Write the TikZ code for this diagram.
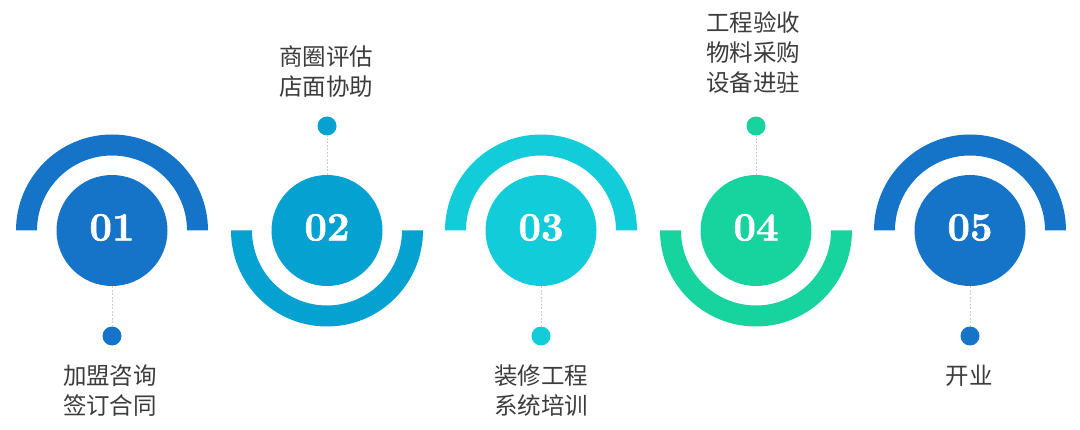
\documentclass[tikz,border=0pt]{standalone}
\usepackage{fontspec}
\newfontfamily\cjk{Noto Sans CJK SC}
\newfontfamily\numfont[FakeBold=1.6]{Latin Modern Roman}
\definecolor{cA}{HTML}{1674C8}
\definecolor{cB}{HTML}{04A1D1}
\definecolor{cC}{HTML}{12CDD9}
\definecolor{cD}{HTML}{17D39D}
\definecolor{txt}{HTML}{3C3C3C}
\definecolor{dashcol}{HTML}{CCCCCC}
\tikzset{
  bigcirc/.style={circle, fill=#1, minimum size=111pt, inner sep=0pt, text=white,
    font=\numfont\bfseries\fontsize{40}{40}\selectfont},
  numtext/.style={text=white, inner sep=0pt, yshift=3pt,
    font=\numfont\bfseries\fontsize{40}{40}\selectfont},
  dotnode/.style={circle, fill=#1, minimum size=19pt, inner sep=0pt},
  link/.style={dashcol, line width=0.8pt, dash pattern=on 2pt off 1.5pt},
  label/.style={text=txt, align=center, inner sep=0pt,
    font=\cjk\fontsize{23.5}{30}\selectfont}
}
\begin{document}
\begin{tikzpicture}[x=1pt,y=1pt]
\fill[white] (0,0) rectangle (1080,429);
\useasboundingbox (0,0) rectangle (1080,429);
% arcs
\fill[cA] (16,198.5) arc[start angle=180,end angle=0,radius=96pt] -- ++(-21,0) arc[start angle=0,end angle=180,radius=75pt] -- cycle;
\fill[cB] (231,198.5) arc[start angle=180,end angle=360,radius=96pt] -- ++(-21,0) arc[start angle=0,end angle=-180,radius=75pt] -- cycle;
\fill[cC] (445,198.5) arc[start angle=180,end angle=0,radius=96pt] -- ++(-21,0) arc[start angle=0,end angle=180,radius=75pt] -- cycle;
\fill[cD] (660,198.5) arc[start angle=180,end angle=360,radius=96pt] -- ++(-21,0) arc[start angle=0,end angle=-180,radius=75pt] -- cycle;
\fill[cA] (874,198.5) arc[start angle=180,end angle=0,radius=96pt] -- ++(-21,0) arc[start angle=0,end angle=180,radius=75pt] -- cycle;
% circles
\node[bigcirc=cA] (c1) at (112,198.5) {};
\node[bigcirc=cB] (c2) at (327,198.5) {};
\node[bigcirc=cC] (c3) at (541,198.5) {};
\node[bigcirc=cD] (c4) at (756,198.5) {};
\node[bigcirc=cA] (c5) at (970,198.5) {};
\node[numtext] (n1) at (c1.center) {01};
\node[numtext] (n2) at (c2.center) {02};
\node[numtext] (n3) at (c3.center) {03};
\node[numtext] (n4) at (c4.center) {04};
\node[numtext] (n5) at (c5.center) {05};
% dots
\node[dotnode=cA] (d1) at (112,93) {};
\node[dotnode=cB] (d2) at (327,303) {};
\node[dotnode=cC] (d3) at (541,93) {};
\node[dotnode=cD] (d4) at (756,303) {};
\node[dotnode=cA] (d5) at (970,93) {};
% links
\draw[link] (c1) -- (d1);
\draw[link] (c2) -- (d2);
\draw[link] (c3) -- (d3);
\draw[link] (c4) -- (d4);
\draw[link] (c5) -- (d5);
% labels
\node[label] (t1) at (110,38) {加盟咨询\\签订合同};
\node[label] (t2) at (326,357.5) {商圈评估\\店面协助};
\node[label] (t3) at (541,38) {装修工程\\系统培训};
\node[label] (t4) at (753,376.5) {工程验收\\物料采购\\设备进驻};
\node[label] (t5) at (969,53) {开业};
\end{tikzpicture}
\end{document}
